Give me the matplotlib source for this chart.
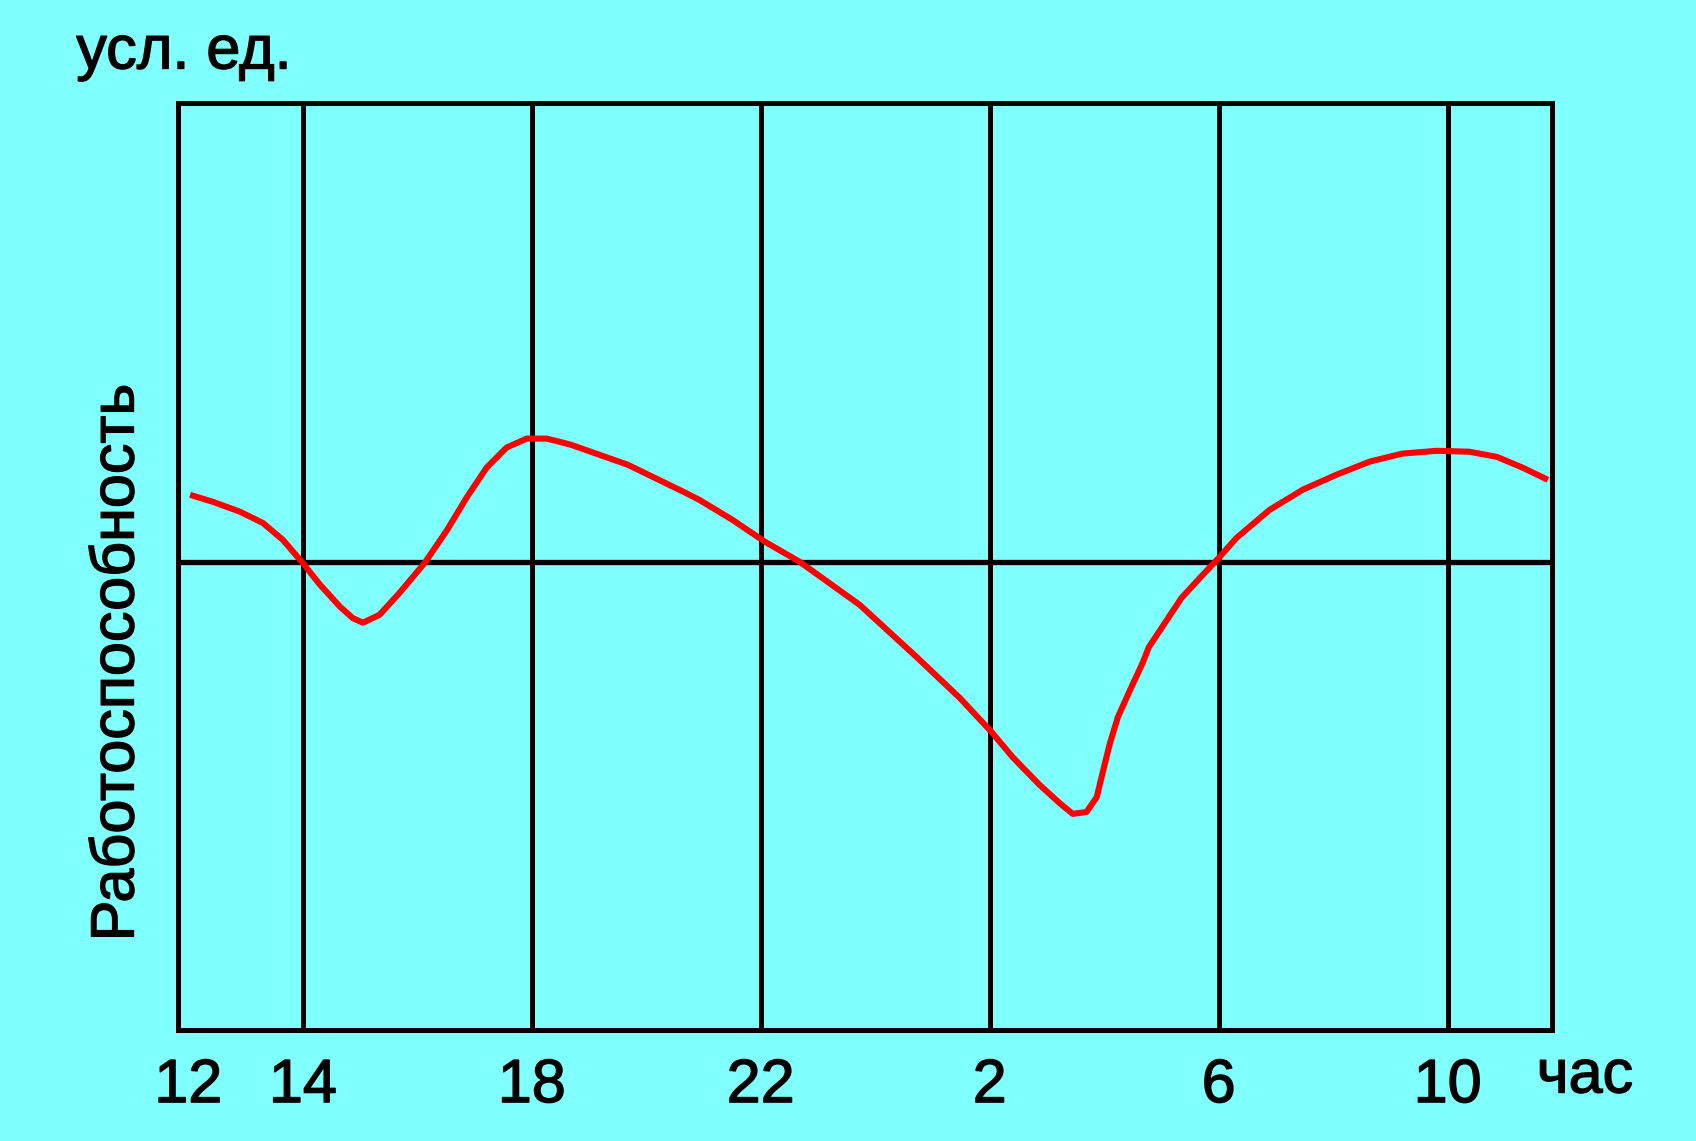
import numpy as np
import matplotlib
matplotlib.use("Agg")
import matplotlib.pyplot as plt
import matplotlib.patheffects as pe

plt.rcParams['font.family'] = ['Liberation Sans', 'DejaVu Sans']

# hours counted from 12:00 through midnight (26 = 2 h next day)
hours = [12.03, 12.43, 12.90, 13.30, 13.65, 13.98, 14.30, 14.65, 14.87, 15.05,
         15.34, 15.69, 16.13, 16.52, 16.86, 17.21, 17.56, 17.91, 18.26, 18.49,
         18.68, 19.68, 20.69, 20.93, 21.50, 22.07, 22.68, 23.73, 24.72, 25.48,
         26.03, 26.40, 26.87, 27.22, 27.45, 27.69, 27.87, 27.97, 28.10, 28.24,
         28.45, 28.67, 28.78, 29.35, 29.72, 30.02, 30.31, 30.89, 31.47, 32.06,
         32.64, 33.21, 33.81, 34.38, 34.86, 35.31, 35.75]
# performance, conventional units (0 = mean level)
perf = [0.143, 0.128, 0.107, 0.083, 0.047, 0.0, -0.049, -0.096, -0.120, -0.130,
        -0.113, -0.066, -0.002, 0.068, 0.137, 0.201, 0.244, 0.263, 0.263, 0.256,
        0.250, 0.207, 0.147, 0.132, 0.090, 0.043, 0.0, -0.092, -0.203, -0.291,
        -0.363, -0.417, -0.476, -0.515, -0.538, -0.534, -0.502, -0.451, -0.387, -0.331,
        -0.274, -0.216, -0.182, -0.077, -0.028, 0.011, 0.051, 0.111, 0.154, 0.186,
        0.214, 0.231, 0.237, 0.235, 0.224, 0.201, 0.175]

tick_pos = [12, 14, 18, 22, 26, 30, 34]
tick_labels = ['12', '14', '18', '22', '2', '6', '10']
grid_pos = [14, 18, 22, 26, 30, 34]

bg = '#80FFFF'
# scanned print looks a bit heavier than regular weight
bold = [pe.withStroke(linewidth=1.0, foreground='black')]

fig = plt.figure(figsize=(16.96, 11.41), dpi=100, facecolor=bg)
ax = fig.add_axes([0.105, 0.097, 0.810, 0.813], facecolor=bg)

for x in grid_pos:
    ax.axvline(x, color='black', lw=3.6, zorder=1)
ax.axhline(0, color='black', lw=3.8, zorder=1)

ax.plot(hours, perf, color='#FF0000', lw=4.4, zorder=3,
        solid_capstyle='butt', solid_joinstyle='round')

ax.set_xlim(11.82, 35.82)
ax.set_ylim(-1.0, 0.98)
ax.set_xticks(tick_pos)
ax.set_xticklabels(tick_labels, fontsize=44)
for t in ax.get_xticklabels():
    t.set_path_effects(bold)
ax.set_yticks([])
ax.tick_params(axis='x', length=0, pad=20)
for s in ax.spines.values():
    s.set_linewidth(3.6)
    s.set_color('black')

fig.text(0.045, 1 - 53 / 1141, 'усл. ед.', fontsize=44, ha='left', va='center',
         path_effects=bold)
fig.text(1585 / 1696, 1 - 1077 / 1141, 'час', fontsize=44, ha='center', va='center',
         path_effects=bold)
fig.text(118 / 1696, 1 - 662 / 1141, 'Работоспособность', fontsize=44,
         rotation=90, ha='center', va='center', path_effects=bold)

fig.savefig('out.png', dpi=100, facecolor=bg)
